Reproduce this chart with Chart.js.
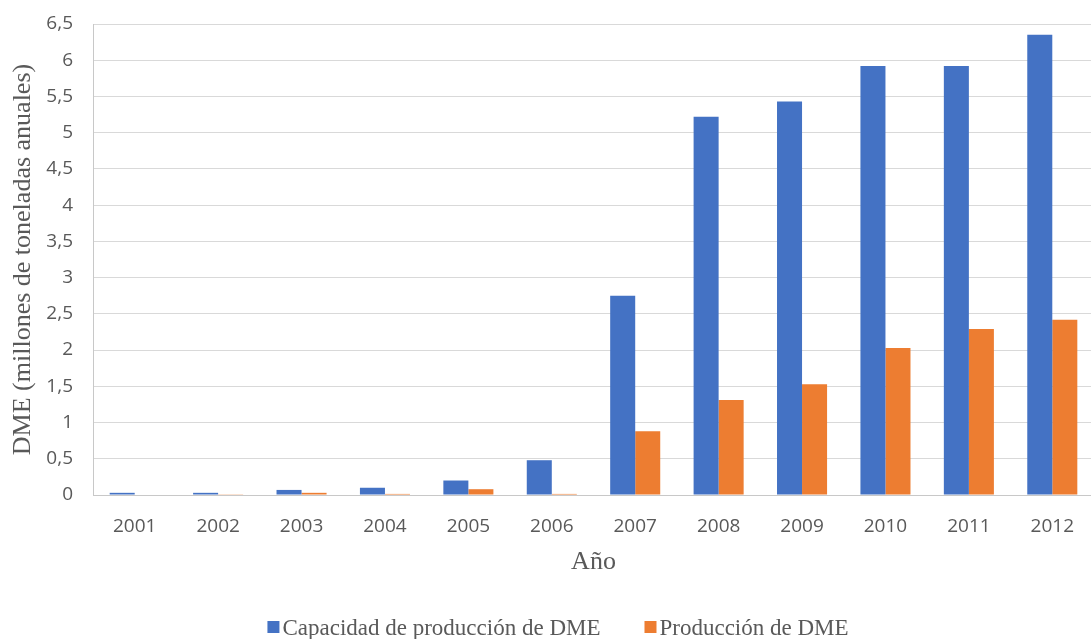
<!DOCTYPE html>
<html>
<head>
<meta charset="utf-8">
<script src="https://cdn.jsdelivr.net/npm/chart.js@4/dist/chart.umd.min.js"></script>
<style>
  html, body { margin: 0; padding: 0; background: #ffffff; overflow: hidden; }
  #wrap { position: relative; width: 1096px; height: 639px; }
</style>
</head>
<body>
<div id="wrap"><canvas id="chart"></canvas></div>
<script>
// Años y producción de DME (millones de toneladas anuales)
const years = ['2001', '2002', '2003', '2004', '2005', '2006', '2007', '2008', '2009', '2010', '2011', '2012'];
const capacidad = [0.03, 0.03, 0.07, 0.10, 0.20, 0.48, 2.75, 5.22, 5.43, 5.92, 5.92, 6.35];
const produccion = [0.00, 0.01, 0.03, 0.015, 0.08, 0.015, 0.88, 1.31, 1.53, 2.03, 2.29, 2.42];
const seriesNames = ['Capacidad de producción de DME', 'Producción de DME'];
const yTitle = 'DME (millones de toneladas anuales)';
const xTitle = 'Año';

const gray = '#595959';
const serif = '"Liberation Serif", "Times New Roman", serif';
const sans = '"Open Sans", "Liberation Sans", sans-serif';

// Leyenda inferior: cuadro de color y texto, centrada bajo el gráfico
const bottomLegend = {
  id: 'bottomLegend',
  afterDraw(chart) {
    const ctx = chart.ctx;
    const box = 12, textGap = 3, itemGap = 44, cy = 628, cx = 558;
    ctx.save();
    ctx.font = '23px ' + serif;
    ctx.textBaseline = 'middle';
    const items = chart.data.datasets.map(ds => ({
      text: ds.label, color: ds.backgroundColor, w: ctx.measureText(ds.label).width
    }));
    const total = items.reduce((s, it) => s + box + textGap + it.w, 0) + itemGap * (items.length - 1);
    let x = cx - total / 2;
    items.forEach(it => {
      ctx.fillStyle = it.color;
      ctx.fillRect(x, cy - box / 2 - 1, box, box);
      ctx.fillStyle = gray;
      ctx.fillText(it.text, x + box + textGap, cy + 1);
      x += box + textGap + it.w + itemGap;
    });
    ctx.restore();
  }
};

new Chart(document.getElementById('chart'), {
  type: 'bar',
  data: {
    labels: years,
    datasets: [
      { label: seriesNames[0], data: capacidad, backgroundColor: '#4472C4', borderWidth: 0 },
      { label: seriesNames[1], data: produccion, backgroundColor: '#ED7D31', borderWidth: 0 }
    ]
  },
  plugins: [bottomLegend],
  options: {
    responsive: true,
    maintainAspectRatio: false,
    animation: false,
    layout: { padding: { left: 0, right: 2, top: 0, bottom: 0 } },
    datasets: { bar: { categoryPercentage: 0.6, barPercentage: 1.0 } },
    plugins: {
      tooltip: { enabled: false },
      legend: { display: false }
    },
    scales: {
      x: {
        afterFit: s => { s.height = 144; },
        grid: { display: false, drawTicks: false },
        border: { display: true, color: '#c8c8c8', width: 1 },
        ticks: { color: gray, padding: 20, font: { family: sans, size: 19 } },
        title: { display: true, text: xTitle, color: gray, padding: { top: 0, bottom: 61 }, font: { family: serif, size: 26 } }
      },
      y: {
        min: 0,
        max: 6.5,
        afterFit: s => { s.width = 93; s.paddingTop = 24; },
        grid: { color: '#d9d9d9', lineWidth: 1, drawTicks: false },
        border: { display: true, color: '#c8c8c8', width: 1 },
        ticks: {
          stepSize: 0.5,
          color: gray,
          padding: 20,
          font: { family: sans, size: 19 },
          callback: v => String(v).replace('.', ',')
        },
        title: { display: true, text: yTitle, color: gray, padding: { top: 8, bottom: 0 }, font: { family: serif, size: 26 } }
      }
    }
  }
});
</script>
</body>
</html>
